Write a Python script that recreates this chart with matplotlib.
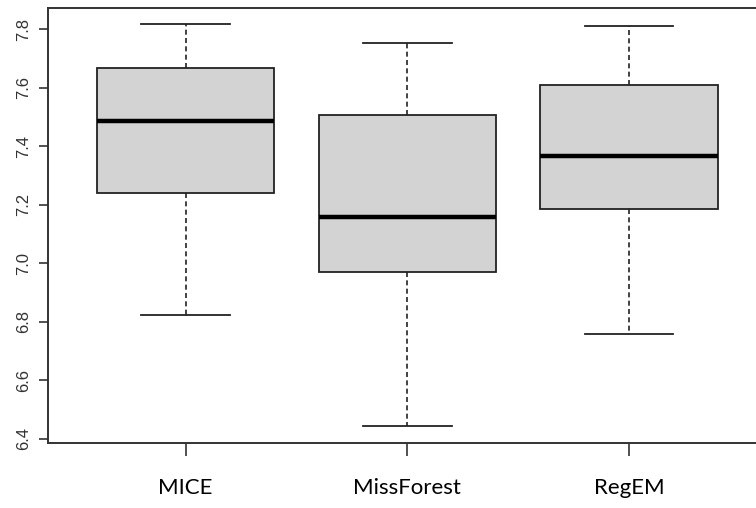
import matplotlib
matplotlib.use("Agg")
from matplotlib import pyplot as plt

methods = ["MICE", "MissForest", "RegEM"]
whisker_low = [6.822, 6.443, 6.757]
q1 = [7.241, 6.969, 7.184]
median = [7.485, 7.157, 7.366]
q3 = [7.668, 7.508, 7.611]
whisker_high = [7.818, 7.754, 7.810]

y_ticks = [6.4, 6.6, 6.8, 7.0, 7.2, 7.4, 7.6, 7.8]

stats = []
for i, name in enumerate(methods):
    stats.append({
        "label": name,
        "whislo": whisker_low[i],
        "q1": q1[i],
        "med": median[i],
        "q3": q3[i],
        "whishi": whisker_high[i],
        "fliers": [],
    })

fig = plt.figure(figsize=(7.56, 5.08), dpi=100)
# R-style frame; the right edge runs past the canvas
ax = fig.add_axes([48 / 756, 1 - 443 / 508, (766.6 - 48) / 756, (443 - 8) / 508])

edge = "#222222"
ax.bxp(
    stats,
    positions=[1, 2, 3],
    widths=0.8,
    patch_artist=True,
    showfliers=False,
    boxprops=dict(facecolor="#d3d3d3", edgecolor=edge, linewidth=1.3),
    medianprops=dict(color="black", linewidth=3.2, solid_capstyle="butt"),
    whiskerprops=dict(color=edge, linewidth=1.2, linestyle=(0, (3, 2))),
    capprops=dict(color=edge, linewidth=1.3),
    capwidths=0.4,
)

ax.set_xlim(0.38, 3.62)
ax.set_ylim(6.385, 7.873)

for side in ["left", "bottom", "top", "right"]:
    ax.spines[side].set_color("#333333")
    ax.spines[side].set_linewidth(1.4)

ax.set_yticks(y_ticks)
ax.set_yticklabels([f"{v:.1f}" for v in y_ticks], rotation=90, va="center",
                   fontsize=12, family="Liberation Sans", color="#333333")
ax.tick_params(axis="y", length=6.5, width=1.2, color="#333333", pad=6)

ax.set_xticks([1, 2, 3])
ax.set_xticklabels(methods, fontsize=16, family="Lato", color="black")
ax.tick_params(axis="x", length=9, width=1.2, color="#333333", pad=16)

fig.savefig("out.png", dpi=100)
plt.close("all")
